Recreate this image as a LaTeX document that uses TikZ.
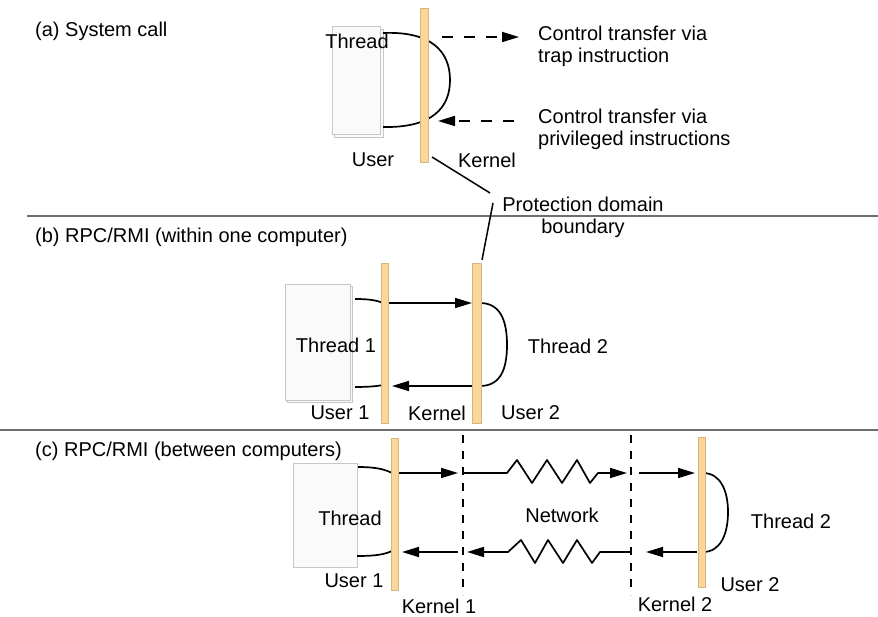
\documentclass[tikz,border=0pt]{standalone}
\usepackage{fontspec}
\setmainfont{Liberation Sans}
\usetikzlibrary{arrows.meta}
\definecolor{barcol}{RGB}{251,214,152}
\definecolor{sepcol}{RGB}{110,110,110}
\tikzset{
  lbl/.style={font=\fontsize{20}{22}\selectfont, inner sep=0pt},
  barbox/.style={fill=barcol, draw=barcol!85!black, line width=0.4pt, inner sep=0pt},
  conn/.style={line width=1.7pt, black, line join=round},
  arr/.style={conn, -{Triangle[length=17pt,width=10pt]}},
  darr/.style={arr, dash pattern=on 11pt off 11pt},
  pagebox/.style={draw=black!22, fill=black!2, line width=1pt},
  vdash/.style={line width=1.6pt, dash pattern=on 8pt off 8pt},
  sep/.style={draw=sepcol, line width=1.3pt},
  leader/.style={line width=1.5pt}
}
\begin{document}
\begin{tikzpicture}[x=1pt,y=-1pt]
\useasboundingbox (0,0) rectangle (878,617);
% separators
\draw[sep] (27,216) -- (878,216);
\draw[sep] (0,430) -- (878,430);

% ---------- (a) ----------
\node[lbl, anchor=west] (ta) at (35,31) {(a) System call};
\draw[pagebox] (334,30) rectangle (383,138);
\draw[pagebox] (332,27) rectangle (380,135);
\coordinate (ca1) at (383,33);
\coordinate (ca2) at (450,80);
\coordinate (ca3) at (383,127);
\draw[conn] (ca1) .. controls (432,31) and (450,52) .. (ca2) .. controls (450,108) and (432,128) .. (ca3);
\node[barbox, minimum width=8pt, minimum height=154pt] (ka) at (424,85) {};
\node[lbl] (thra) at (357,41) {Thread};
\coordinate (a1s) at (442,37); \coordinate (a1e) at (519,37);
\draw[darr] (a1s) -- (a1e);
\coordinate (a2s) at (514,121); \coordinate (a2e) at (438,121);
\draw[darr] (a2s) -- (a2e);
\node[lbl, anchor=west, align=left] (ct1) at (538,46) {Control transfer via\\trap instruction};
\node[lbl, anchor=west, align=left] (ct2) at (538,129) {Control transfer via\\privileged instructions};
\node[lbl] (usera) at (373,160) {User};
\node[lbl] (kerna) at (487,160) {Kernel};
\node[lbl, align=center] (pdb) at (583,217) {Protection domain\\boundary};
\coordinate (l1a) at (432,157); \coordinate (l1b) at (490,193);
\coordinate (l2a) at (493,203); \coordinate (l2b) at (482,260);
\draw[leader] (l1a) -- (l1b);
\draw[leader] (l2a) -- (l2b);

% ---------- (b) ----------
\node[lbl, anchor=west] (tb) at (35,237) {(b) RPC/RMI (within one computer)};
\draw[pagebox] (287,287) rectangle (352,402);
\draw[pagebox] (285,285) rectangle (350,400);
\draw[conn] (355,299) .. controls (372,299) and (378,301) .. (383,303);
\draw[conn] (383,385) .. controls (378,386) and (370,387) .. (355,387);
\coordinate (b1s) at (389,303); \coordinate (b1e) at (472,303);
\draw[arr] (b1s) -- (b1e);
\draw[conn] (480,303) .. controls (500,303) and (507,320) .. (507,345) .. controls (507,370) and (500,386) .. (480,386);
\coordinate (b2s) at (472,386); \coordinate (b2e) at (392,386);
\draw[arr] (b2s) -- (b2e);
\node[barbox, minimum width=7pt, minimum height=160pt] (kb1) at (384.5,343) {};
\node[barbox, minimum width=9pt, minimum height=160pt] (kb2) at (477,343) {};
\node[lbl] (thrb1) at (336,345) {Thread 1};
\node[lbl] (thrb2) at (568,346) {Thread 2};
\node[lbl] (userb1) at (340,413) {User 1};
\node[lbl] (kernb) at (437,413) {Kernel};
\node[lbl, anchor=west] (userb2) at (501,413) {User 2};

% ---------- (c) ----------
\node[lbl, anchor=west] (tc) at (35,451) {(c) RPC/RMI (between computers)};
\draw[pagebox] (293,463) rectangle (357,567);
\coordinate (d1t) at (463,435); \coordinate (d1b) at (463,595);
\coordinate (d2t) at (631,435); \coordinate (d2b) at (631,595);
\draw[vdash] (d1t) -- (d1b);
\draw[vdash] (d2t) -- (d2b);
\draw[conn] (358,467) .. controls (378,467) and (386,470) .. (392,473);
\draw[conn] (392,551) .. controls (385,554) and (378,556) .. (357,556);
\coordinate (c1s) at (398,473); \coordinate (c1e) at (458,473);
\draw[arr] (c1s) -- (c1e);
\draw[arr] (463,473) -- (507,473) -- (517,460) -- (532,483) -- (547,460) -- (562,483) -- (577,460) -- (590,483) -- (598,473) -- (627,473);
\coordinate (c3s) at (639,473); \coordinate (c3e) at (695,473);
\draw[arr] (c3s) -- (c3e);
\draw[conn] (703,473) .. controls (720,473) and (728,490) .. (728,512) .. controls (728,535) and (720,552) .. (703,552);
\coordinate (c4s) at (697,552); \coordinate (c4e) at (646,552);
\draw[arr] (c4s) -- (c4e);
\draw[arr] (631,552) -- (600,552) -- (592,563) -- (577,540) -- (563,563) -- (548,540) -- (535,563) -- (521,540) -- (508,552) -- (467,552);
\coordinate (c6s) at (458,552); \coordinate (c6e) at (402,552);
\draw[arr] (c6s) -- (c6e);
\node[barbox, minimum width=7pt, minimum height=152pt] (kc1) at (394.5,514) {};
\node[barbox, minimum width=7pt, minimum height=150pt] (kc2) at (701.5,512) {};
\node[lbl] (thrc) at (350,518) {Thread};
\node[lbl] (net) at (562,515) {Network};
\node[lbl] (thrc2) at (791,521) {Thread 2};
\node[lbl] (userc1) at (354,581) {User 1};
\node[lbl] (kernc1) at (439,606) {Kernel 1};
\node[lbl] (kernc2) at (675,604) {Kernel 2};
\node[lbl] (userc2) at (750,585) {User 2};
\end{tikzpicture}
\end{document}
